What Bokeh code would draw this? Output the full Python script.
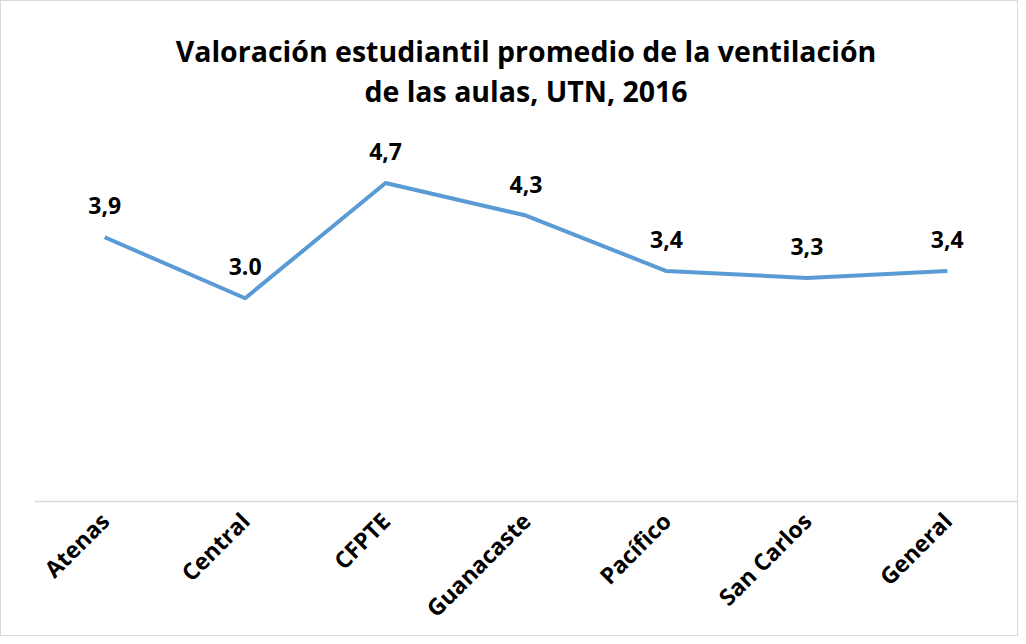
import math
from bokeh.plotting import figure
from bokeh.models import ColumnDataSource, Range1d, LabelSet, Label
from bokeh.core.properties import value
from bokeh.embed import file_html
from bokeh.resources import INLINE

sedes = ["Atenas", "Central", "CFPTE", "Guanacaste", "Pacífico", "San Carlos", "General"]
valores = [3.9, 3.0, 4.7, 4.22, 3.4, 3.3, 3.4]
etiquetas = ["3,9", "3.0", "4,7", "4,3", "3,4", "3,3", "3,4"]
titulo = ["Valoración estudiantil promedio de la ventilación", "de las aulas, UTN, 2016"]
titulo_y = [6.65, 6.06]

FONT = "Open Sans"
Y_MAX = 7.32

src = ColumnDataSource(dict(x=sedes, y=valores, lab=etiquetas))

p = figure(x_range=sedes, y_range=Range1d(0, Y_MAX), width=1018, height=636,
           output_backend="svg", toolbar_location=None,
           min_border_left=33, min_border_right=2, min_border_top=4, min_border_bottom=136)
p.styles = {"border": "1px solid #D9D9D9"}

p.line("x", "y", source=src, line_color="#5B9BD5", line_width=4, line_join="round")

labels = LabelSet(x="x", y="y", text="lab", source=src, text_align="center",
                  text_baseline="alphabetic", y_offset=23, text_font=value(FONT),
                  text_font_size="23px", text_font_style="bold", text_color="#000000")
p.add_layout(labels)

# title, two centered lines at the top of the chart
centro = len(sedes) / 2
for linea, ty in zip(titulo, titulo_y):
    p.add_layout(Label(x=centro, y=ty, text=linea, text_align="center",
                       text_baseline="alphabetic", text_font=FONT,
                       text_font_size="28.5px", text_font_style="bold", text_color="#000000"))

p.yaxis.visible = False
p.xgrid.grid_line_color = None
p.ygrid.grid_line_color = None
p.outline_line_color = None
p.xaxis.axis_line_color = "#D9D9D9"
p.xaxis.axis_line_width = 1.5
p.xaxis.major_tick_line_color = None
p.xaxis.minor_tick_line_color = None
p.xaxis.major_label_orientation = math.pi / 4
p.xaxis.major_label_text_font = FONT
p.xaxis.major_label_text_font_size = "23px"
p.xaxis.major_label_text_font_style = "bold"
p.xaxis.major_label_text_color = "#000000"
p.xaxis.major_label_standoff = 9

open("out.html", "w").write(file_html(p, INLINE))
